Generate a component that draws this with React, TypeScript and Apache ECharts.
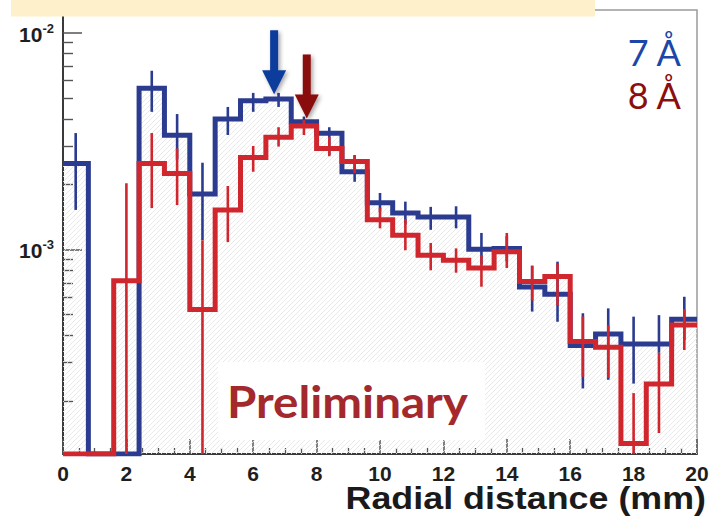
import React, { useEffect, useRef } from "react";
import * as echarts from "echarts";

// ---- data ----
const binLowEdges = [0, 0.8, 1.6, 2.4, 3.2, 4.0, 4.8, 5.6, 6.4, 7.2, 8.0, 8.8, 9.6, 10.4, 11.2, 12.0, 12.8, 13.6, 14.4, 15.2, 16.0, 16.8, 17.6, 18.4, 19.2];
const binWidth = 0.8;
const xMin = 0;
const xMax = 20;
const xTickStep = 2;

const values7A = [2.49e-3, 0, 0, 5.54e-3, 3.36e-3, 1.8e-3, 3.99e-3, 4.85e-3, 4.94e-3, 3.88e-3, 3.43e-3, 2.28e-3, 1.64e-3, 1.47e-3, 1.41e-3, 1.41e-3, 1.0e-3, 1.01e-3, 6.7e-4, 6.2e-4, 3.6e-4, 4.07e-4, 3.66e-4, 3.66e-4, 4.75e-4];
const err7AHigh = [3.44e-3, 0, 0, 6.67e-3, 4.21e-3, 2.51e-3, 4.54e-3, 5.27e-3, 5.27e-3, 4.1e-3, 3.66e-3, 2.72e-3, 1.82e-3, 1.66e-3, 1.57e-3, 1.58e-3, 1.19e-3, 1.15e-3, 8.4e-4, 8.77e-4, 5.07e-4, 5.34e-4, 4.89e-4, 4.97e-4, 6.04e-4];
const err7ALow = [1.52e-3, 0, 0, 4.31e-3, 2.6e-3, 1.1e-3, 3.37e-3, 4.31e-3, 4.54e-3, 3.65e-3, 2.72e-3, 2.05e-3, 1.49e-3, 1.3e-3, 1.23e-3, 1.25e-3, 8.5e-4, 8.8e-4, 5.16e-4, 4.63e-4, 2.28e-4, 2.5e-4, 2.4e-4, 3.33e-4, 3.81e-4];

const values8A = [0, 0, 7.16e-4, 2.49e-3, 2.24e-3, 5.28e-4, 1.52e-3, 2.65e-3, 3.29e-3, 3.71e-3, 2.92e-3, 2.54e-3, 1.37e-3, 1.16e-3, 9.4e-4, 8.9e-4, 8.2e-4, 9.75e-4, 7.1e-4, 7.5e-4, 3.75e-4, 3.53e-4, 1.27e-4, 2.39e-4, 4.48e-4];
const err8AHigh = [0, 0, 2.02e-3, 3.44e-3, 2.92e-3, 1.1e-3, 1.96e-3, 3.0e-3, 3.66e-3, 3.95e-3, 3.31e-3, 2.72e-3, 1.55e-3, 1.38e-3, 1.07e-3, 1.01e-3, 9.4e-4, 1.19e-3, 8.4e-4, 8.6e-4, 4.9e-4, 4.47e-4, 2.17e-4, 3.33e-4, 5.3e-4];
const err8ALow = [0, 0, 0, 1.55e-3, 1.6e-3, 0, 1.08e-3, 2.28e-3, 2.98e-3, 3.37e-3, 2.69e-3, 2.25e-3, 1.25e-3, 9.9e-4, 8.0e-4, 7.8e-4, 6.72e-4, 8.2e-4, 5.8e-4, 5.5e-4, 2.58e-4, 2.55e-4, 0, 1.42e-4, 3.43e-4];

const yMajorTicks = [1e-3, 1e-2];
const yMinorTicks = [2e-4, 3e-4, 4e-4, 5e-4, 6e-4, 7e-4, 8e-4, 9e-4, 2e-3, 3e-3, 4e-3, 5e-3, 6e-3, 7e-3, 8e-3, 9e-3];
const yAxisMin = 1.136e-4;
const yAxisMax = 1.272e-2;

const peakArrowX = [6.66, 7.69];
const peakArrowTip = [5.2e-3, 4.02e-3];

const legendLabels = ["7 Å", "8 Å"];

// ---- styles ----
const BLUE = "#2b3c90";
const RED = "#d0262d";
const ARROW_COLORS = ["#0c3d9c", "#8a0c0c"];
const LOG_MIN = Math.log10(yAxisMin);
const LOG_MAX = Math.log10(yAxisMax);
const lg = (v: number) => (v > 0 ? Math.log10(v) : LOG_MIN);

const histPoints = (vals: number[]) => [
  ...binLowEdges.map((x, i) => [x, lg(vals[i])]),
  [xMax, lg(vals[vals.length - 1])],
];

const errPoints = (vals: number[], lo: number[], hi: number[]) =>
  vals
    .map((v, i) => (v > 0 ? [binLowEdges[i] + binWidth / 2, lg(lo[i]), lg(hi[i])] : null))
    .filter((d) => d !== null);

const hatchSvg =
  "<svg xmlns='http://www.w3.org/2000/svg' width='5' height='5'><path d='M-1,6 L6,-1 M-1,1 L1,-1 M4,6 L6,4' stroke='#e6e6e6' stroke-width='0.9'/></svg>";
const hatchUrl = "data:image/svg+xml;charset=utf-8," + encodeURIComponent(hatchSvg);

function errSeries(data: any[], color: string, z: number) {
  return {
    type: "custom",
    data,
    z,
    clip: true,
    silent: true,
    encode: { x: 0, y: [1, 2] },
    renderItem: (params: any, api: any) => {
      const x = api.value(0);
      const a = api.coord([x, api.value(1)]);
      const b = api.coord([x, api.value(2)]);
      return {
        type: "line",
        shape: { x1: a[0], y1: a[1], x2: b[0], y2: b[1] },
        style: { stroke: color, lineWidth: 2.6 },
      };
    },
  };
}

function histSeries(vals: number[], color: string, z: number) {
  return {
    type: "line",
    step: "end",
    data: histPoints(vals),
    symbol: "none",
    z,
    clip: true,
    silent: true,
    lineStyle: { color, width: 5, join: "miter", cap: "butt" },
  };
}

export default function App() {
  const ref = useRef<HTMLDivElement>(null);
  useEffect(() => {
    if (!ref.current) return;
    const chart = echarts.init(ref.current, null, { renderer: "svg" });
    const fillTop = values7A.map((v, i) => Math.max(v, values8A[i]));
    const labelFont = "Liberation Sans";
    chart.setOption({
      animation: false,
      backgroundColor: "#ffffff",
      grid: {
        left: 63,
        right: 16,
        top: 10,
        bottom: 64,
        show: true,
        borderColor: "#9a9a9a",
        borderWidth: 1.5,
        backgroundColor: "transparent",
      },
      xAxis: {
        type: "value",
        min: xMin,
        max: xMax,
        interval: xTickStep,
        axisLine: { show: true, onZero: false, lineStyle: { color: "#3a3a3a", width: 2 } },
        axisTick: { show: true, inside: true, length: 15, lineStyle: { color: "#555", width: 1.5 } },
        minorTick: { show: true, splitNumber: 4, length: 6, lineStyle: { color: "#555", width: 1.3 } },
        splitLine: { show: false },
        axisLabel: {
          margin: 9,
          color: "#1e1e1e",
          fontSize: 21,
          fontWeight: "bold",
          fontFamily: labelFont,
        },
      },
      yAxis: [
        {
          type: "value",
          min: LOG_MIN,
          max: LOG_MAX,
          axisLine: { show: true, onZero: false, lineStyle: { color: "#3a3a3a", width: 2 } },
          splitLine: { show: false },
          axisTick: {
            show: true,
            inside: true,
            length: 19,
            customValues: yMajorTicks.map((v) => Math.log10(v)),
            lineStyle: { color: "#555", width: 1.5 },
          },
          axisLabel: {
            show: true,
            margin: 9,
            customValues: yMajorTicks.map((v) => Math.log10(v)),
            formatter: (v: number) => `{b|10}{s|${Math.round(v)}}`,
            rich: {
              b: { fontSize: 21, fontWeight: "bold", fontFamily: labelFont, color: "#1e1e1e", lineHeight: 22, padding: [3, 0, 0, 0] },
              s: { fontSize: 13, fontWeight: "bold", fontFamily: labelFont, color: "#1e1e1e", verticalAlign: "top", lineHeight: 14 },
            },
          },
        },
        {
          type: "value",
          min: LOG_MIN,
          max: LOG_MAX,
          position: "left",
          axisLine: { show: false },
          splitLine: { show: false },
          axisLabel: { show: false },
          axisTick: {
            show: true,
            inside: true,
            length: 10,
            customValues: yMinorTicks.map((v) => Math.log10(v)),
            lineStyle: { color: "#555", width: 1.4 },
          },
        },
      ],
      series: [
        {
          type: "line",
          step: "end",
          data: histPoints(fillTop),
          symbol: "none",
          z: 1,
          silent: true,
          lineStyle: { width: 0, opacity: 0 },
          areaStyle: {
            origin: "start",
            opacity: 1,
            color: { image: hatchUrl, repeat: "repeat", imageWidth: 5, imageHeight: 5 },
          },
        },
        histSeries(values7A, BLUE, 3),
        errSeries(errPoints(values7A, err7ALow, err7AHigh), BLUE, 3),
        histSeries(values8A, RED, 4),
        errSeries(errPoints(values8A, err8ALow, err8AHigh), RED, 4),
        {
          type: "custom",
          data: peakArrowX.map((x, i) => [x, lg(peakArrowTip[i])]),
          z: 6,
          silent: true,
          clip: false,
          encode: { x: 0, y: 1 },
          renderItem: (params: any, api: any) => {
            const p = api.coord([api.value(0), api.value(1)]);
            const x = p[0];
            const y = p[1];
            return {
              type: "polygon",
              shape: {
                points: [
                  [x - 4, y - 64],
                  [x + 4, y - 64],
                  [x + 4, y - 24],
                  [x + 12, y - 24],
                  [x, y],
                  [x - 12, y - 24],
                  [x - 4, y - 24],
                ],
              },
              style: {
                fill: ARROW_COLORS[params.dataIndex],
                shadowBlur: 4,
                shadowColor: "rgba(0,0,0,0.35)",
                shadowOffsetX: 2,
                shadowOffsetY: 2,
              },
            };
          },
        },
      ],
      graphic: [
        { type: "rect", z: 100, shape: { x: 11, y: 0, width: 584, height: 16.5 }, style: { fill: "#fdf0ca" } },
        { type: "rect", z: 50, shape: { x: 218, y: 362, width: 267, height: 78 }, style: { fill: "#ffffff" } },
        {
          type: "text",
          z: 60,
          x: 227,
          y: 401,
          scaleX: 1.08,
          style: {
            text: "Preliminary",
            fontSize: 44,
            fontWeight: "bold",
            fontFamily: "Lato",
            fill: "#a3292d",
            textAlign: "left",
            align: "left",
            textVerticalAlign: "middle",
            verticalAlign: "middle",
          },
        },
        {
          type: "text",
          z: 60,
          x: 681,
          y: 52,
          style: {
            text: legendLabels[0],
            fontSize: 36,
            fontFamily: "Lato",
            fill: "#1c46a8",
            textAlign: "right",
            align: "right",
            textVerticalAlign: "middle",
            verticalAlign: "middle",
          },
        },
        {
          type: "text",
          z: 60,
          x: 681,
          y: 95,
          style: {
            text: legendLabels[1],
            fontSize: 36,
            fontFamily: "Lato",
            fill: "#8c0d0d",
            textAlign: "right",
            align: "right",
            textVerticalAlign: "middle",
            verticalAlign: "middle",
          },
        },
        {
          type: "text",
          z: 60,
          x: 706,
          y: 498,
          scaleX: 1.12,
          style: {
            text: "Radial distance (mm)",
            fontSize: 32,
            fontWeight: "bold",
            fontFamily: labelFont,
            fill: "#1a1a1a",
            textAlign: "right",
            align: "right",
            textVerticalAlign: "middle",
            verticalAlign: "middle",
          },
        },
      ],
    });
    return () => chart.dispose();
  }, []);
  return (
    <div
      ref={ref}
      style={{ position: "fixed", left: 0, top: 0, width: 713, height: 518, background: "#fff" }}
    />
  );
}
